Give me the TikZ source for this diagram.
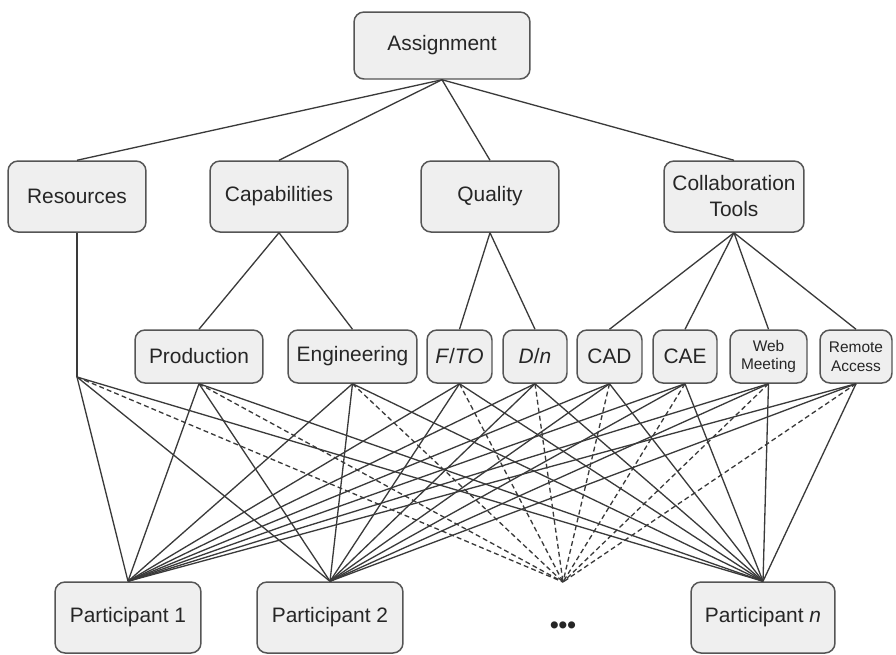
\documentclass[tikz,border=0pt]{standalone}
\usepackage{fontspec}
\setmainfont{Liberation Sans}
\definecolor{boxfill}{HTML}{EFEFEF}
\definecolor{boxline}{HTML}{555555}
\definecolor{linkline}{HTML}{3A3A3A}
\begin{document}
\begin{tikzpicture}[
    x=0.02cm, y=-0.02cm,
    every node/.style={align=center, font=\fontsize{11.9}{14.8}\selectfont, text=black!85},
    box/.style={draw=boxline, fill=boxfill, rounded corners=0.2cm, line width=0.85pt, inner sep=0pt},
    rootbox/.style={box, minimum width=3.52cm, minimum height=1.34cm},
    catbox/.style={box, minimum width=2.76cm, minimum height=1.42cm},
    subbox/.style={box, minimum height=1.06cm},
    partbox/.style={box, minimum width=2.92cm, minimum height=1.42cm},
    small/.style={font=\fontsize{8.8}{10.8}\selectfont},
    link/.style={draw=linkline, line width=0.75pt},
    maybe/.style={link, dash pattern=on 2.8pt off 1.8pt}
]
  \useasboundingbox (0,0) rectangle (896,654);

  \node[rootbox] (assign) at (442,45.5) {Assignment};

  \node[catbox] (res) at (77,196.5) {Resources};
  \node[catbox] (cap) at (279,196.5) {Capabilities};
  \node[catbox] (qual) at (490,196.5) {Quality};
  \node[catbox, minimum width=2.8cm] (collab) at (734,196.5) {Collaboration\\Tools};

  \node[subbox, minimum width=2.56cm] (prod) at (199,356.5) {Production};
  \node[subbox, minimum width=2.58cm] (eng) at (352.5,356.5) {Engineering};
  \node[subbox, minimum width=1.3cm] (fto) at (459.5,356.5) {\textit{F}/\textit{TO}};
  \node[subbox, minimum width=1.28cm] (dn) at (535,356.5) {\textit{D}/\textit{n}};
  \node[subbox, minimum width=1.3cm] (cad) at (609.5,356.5) {CAD};
  \node[subbox, minimum width=1.28cm] (cae) at (685,356.5) {CAE};
  \node[subbox, small, minimum width=1.54cm] (web) at (768.5,356.5) {Web\\Meeting};
  \node[subbox, small, minimum width=1.44cm] (remote) at (856,356.5) {Remote\\Access};

  \node[partbox] (p1) at (128,617.5) {Participant 1};
  \node[partbox] (p2) at (330,617.5) {Participant 2};
  \node[partbox, minimum width=2.88cm] (pn) at (763,617.5) {Participant \textit{n}};
  \node[font=\fontsize{14}{16}\selectfont\bfseries] (dots) at (563,628) {\textbullet\textbullet\textbullet};

  \coordinate (resj) at (77,377);
  \coordinate (dotsj) at (563,582);

  \foreach \cat in {res, cap, qual, collab}
    \draw[link] (assign.south) -- (\cat.north);
  \draw[link] (cap.south) -- (prod.north);
  \draw[link] (cap.south) -- (eng.north);
  \draw[link] (qual.south) -- (fto.north);
  \draw[link] (qual.south) -- (dn.north);
  \foreach \tool in {cad, cae, web, remote}
    \draw[link] (collab.south) -- (\tool.north);
  \draw[link] (res.south) -- (resj);

  \foreach \src in {resj, prod.south, eng.south, fto.south, dn.south, cad.south, cae.south, web.south, remote.south} {
    \draw[link] (\src) -- (p1.north);
    \draw[link] (\src) -- (p2.north);
    \draw[link] (\src) -- (pn.north);
    \draw[maybe] (\src) -- (dotsj);
  }
\end{tikzpicture}
\end{document}
